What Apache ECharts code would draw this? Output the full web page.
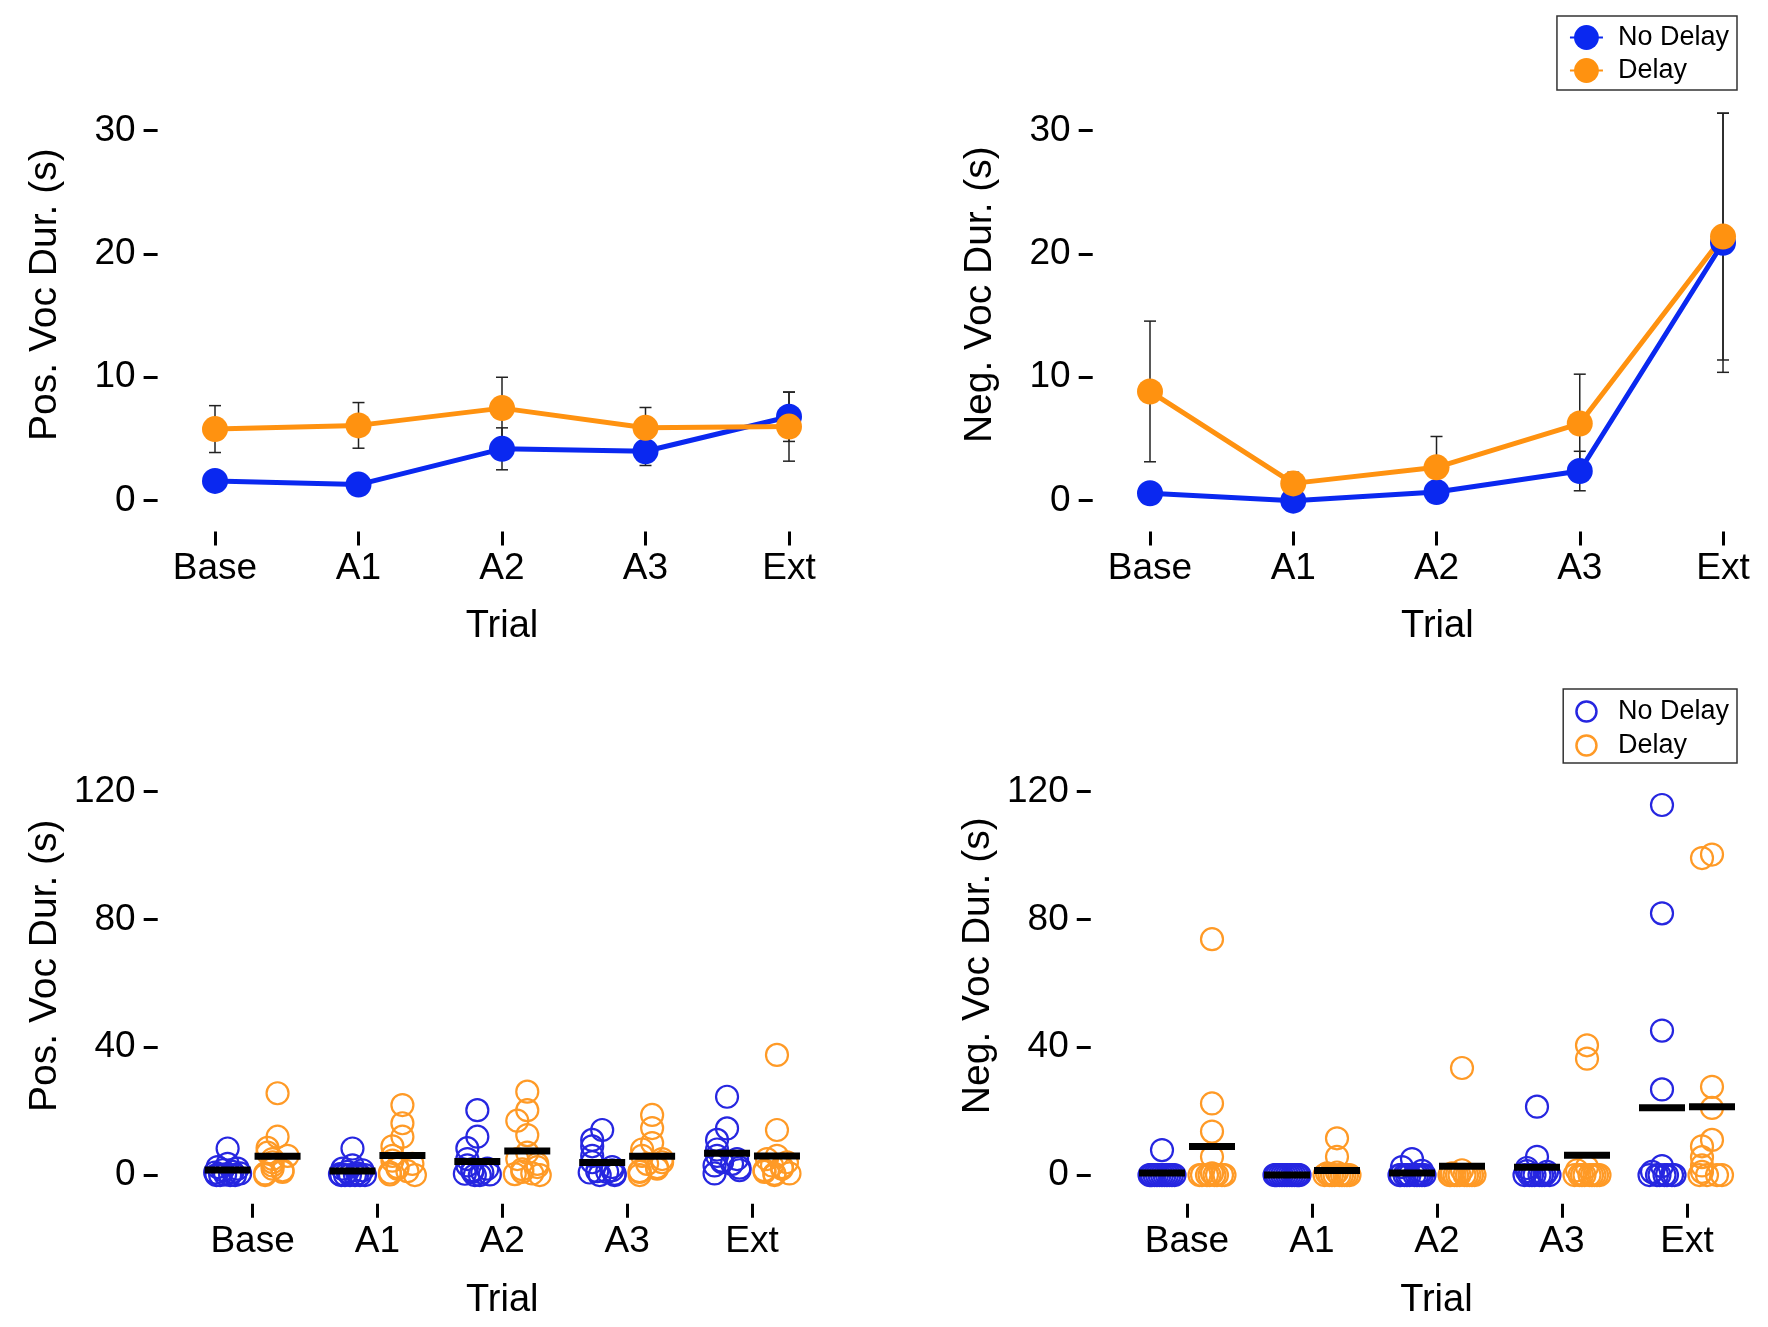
<!DOCTYPE html>
<html>
<head>
<meta charset="utf-8">
<title>Voc duration by trial</title>
<script src="https://cdn.jsdelivr.net/npm/echarts@6/dist/echarts.min.js"></script>
<style>
  html, body { margin: 0; padding: 0; background: #fff; }
  #main { width: 1768px; height: 1327px; }
</style>
</head>
<body>
<div id="main"></div>
<script>
// categories
var trials = ['Base', 'A1', 'A2', 'A3', 'Ext'];

// top panels: group means and SEM
var posMeanNoDelay = [1.6, 1.3, 4.2, 4.0, 6.8];
var posSemNoDelay = [0.6, 0.6, 1.7, 1.15, 2.0];
var posMeanDelay = [5.8, 6.1, 7.5, 5.9, 6.0];
var posSemDelay = [1.9, 1.85, 2.5, 1.65, 2.8];

var negMeanNoDelay = [0.6, 0.0, 0.7, 2.4, 20.9];
var negSemNoDelay = [0.6, 0.0, 0.5, 1.6, 10.5];
var negMeanDelay = [8.85, 1.4, 2.7, 6.25, 21.4];
var negSemDelay = [5.7, 0.9, 2.5, 4.0, 10.0];

// bottom panels: individual animals, one array per trial
var posNoDelay = [
  [8.3, 3.5, 2.5, 2.0, 1.5, 1.0, 0.8, 0.5, 0.2, 0, 0, 0, 0],
  [8.3, 3.0, 2.0, 1.5, 1.0, 0.5, 0.3, 0, 0, 0, 0, 0, 0],
  [20.3, 12.0, 8.4, 5.0, 3.0, 2.0, 1.5, 1.0, 0.8, 0.4, 0.2, 0, 0],
  [14.1, 11.0, 9.0, 6.0, 4.0, 2.5, 1.5, 1.2, 1.0, 0.8, 0.4, 0, 0],
  [24.5, 14.6, 11.0, 8.0, 6.0, 5.0, 4.5, 4.0, 3.5, 3.0, 2.3, 1.5, 0.5]
];
var posDelay = [
  [25.6, 12.0, 8.5, 7.0, 6.0, 5.0, 4.0, 3.0, 2.0, 1.5, 1.0, 0.5, 0],
  [21.9, 16.2, 12.0, 9.0, 6.0, 4.5, 3.5, 2.5, 2.0, 1.2, 0.8, 0.2, 0],
  [26.1, 20.3, 17.0, 12.5, 7.0, 5.0, 3.5, 2.5, 1.8, 1.0, 0.5, 0.3, 0],
  [18.8, 14.7, 10.0, 8.0, 6.0, 5.0, 4.0, 3.5, 2.5, 2.0, 1.2, 1.0, 0],
  [37.6, 14.1, 6.0, 5.0, 4.0, 3.0, 2.5, 2.0, 1.5, 1.0, 0.5, 0.4, 0]
];
var negNoDelay = [
  [7.8, 0, 0, 0, 0, 0, 0, 0, 0, 0, 0, 0, 0],
  [0, 0, 0, 0, 0, 0, 0, 0, 0, 0, 0, 0, 0],
  [5.0, 2.5, 1.3, 0, 0, 0, 0, 0, 0, 0, 0, 0, 0],
  [21.4, 5.7, 2.2, 1.2, 1.0, 0, 0, 0, 0, 0, 0, 0, 0],
  [115.8, 81.9, 45.2, 26.8, 2.8, 1.0, 0, 0, 0, 0, 0, 0, 0]
];
var negDelay = [
  [73.8, 22.4, 13.6, 5.7, 0.5, 0, 0, 0, 0, 0, 0, 0, 0],
  [11.5, 5.7, 0.8, 0.5, 0, 0, 0, 0, 0, 0, 0, 0, 0],
  [33.5, 1.5, 0.5, 0, 0, 0, 0, 0, 0, 0, 0, 0, 0],
  [40.6, 36.4, 2.5, 1.5, 0, 0, 0, 0, 0, 0, 0, 0, 0],
  [100.3, 99.2, 27.6, 21.0, 11.0, 9.0, 5.6, 3.0, 1.0, 0, 0, 0, 0]
];

var BLUE = '#0a28f0';
var ORANGE = '#ff9210';
var BLUE_PT = '#2626e0';
var ORANGE_PT = '#ff9a26';
var FONT = '"Liberation Sans", Arial, Helvetica, sans-serif';

// horizontal spread so that overlapping circles fan out a bit
var SPREAD = [0, -0.08, 0.08, -0.04, 0.04, -0.1, 0.1, -0.02, 0.02, -0.06, 0.06, -0.09, 0.09];

function swarm(groups, shift) {
  var out = [];
  groups.forEach(function (vals, i) {
    var placed = [];
    vals.slice().sort(function (a, b) { return b - a; }).forEach(function (v) {
      var k = placed.filter(function (p) { return Math.abs(p - v) < 4; }).length;
      out.push([i + shift + SPREAD[k % SPREAD.length], v]);
      placed.push(v);
    });
  });
  return out;
}

function means(groups, shift) {
  return groups.map(function (vals, i) {
    var s = vals.reduce(function (a, b) { return a + b; }, 0);
    return [i + shift, s / vals.length];
  });
}

function xAxis(idx, min, max, gap, namePad) {
  return {
    type: 'value', gridIndex: idx, min: min, max: max,
    axisLine: { show: false, onZero: false }, splitLine: { show: false },
    axisTick: { show: true, length: 14, lineStyle: { color: '#000', width: 3 }, customValues: [0, 1, 2, 3, 4] },
    axisLabel: {
      customValues: [0, 1, 2, 3, 4], margin: 19,
      formatter: function (v) { return trials[Math.round(v)]; },
      fontSize: 37, color: '#000', fontFamily: FONT
    },
    name: 'Trial', nameLocation: 'middle', nameGap: gap,
    nameTextStyle: { fontSize: 38, color: '#000', fontFamily: FONT, padding: [0, 0, 0, namePad] }
  };
}

function yAxis(idx, min, max, ticks, name) {
  return {
    type: 'value', gridIndex: idx, min: min, max: max,
    axisLine: { show: false, onZero: false }, splitLine: { show: false },
    axisTick: { show: true, length: 14, lineStyle: { color: '#000', width: 3 }, customValues: ticks },
    axisLabel: { customValues: ticks, margin: 22, fontSize: 37, color: '#000', fontFamily: FONT },
    name: name, nameLocation: 'middle', nameGap: 93,
    nameTextStyle: { fontSize: 39, color: '#000', fontFamily: FONT, padding: [0, 0, 0, 48] }
  };
}

function lineSeries(name, idx, vals, color) {
  return {
    name: name, type: 'line', xAxisIndex: idx, yAxisIndex: idx,
    data: vals.map(function (v, i) { return [i, v]; }),
    symbol: 'circle', symbolSize: 26,
    lineStyle: { color: color, width: 5 },
    itemStyle: { color: color },
    z: 3
  };
}

function errSeries(idx, vals, sem) {
  return {
    type: 'custom', xAxisIndex: idx, yAxisIndex: idx, z: 2, silent: true,
    data: vals.map(function (v, i) { return [i, v - sem[i], v + sem[i]]; }),
    encode: { x: 0, y: [1, 2] },
    renderItem: function (params, api) {
      var lo = api.coord([api.value(0), api.value(1)]);
      var hi = api.coord([api.value(0), api.value(2)]);
      var c = 6;
      var st = { stroke: '#222', lineWidth: 1.5 };
      return {
        type: 'group', children: [
          { type: 'line', shape: { x1: lo[0], y1: lo[1], x2: hi[0], y2: hi[1] }, style: st },
          { type: 'line', shape: { x1: lo[0] - c, y1: lo[1], x2: lo[0] + c, y2: lo[1] }, style: st },
          { type: 'line', shape: { x1: hi[0] - c, y1: hi[1], x2: hi[0] + c, y2: hi[1] }, style: st }
        ]
      };
    }
  };
}

function pointSeries(name, idx, groups, shift, color) {
  return {
    name: name, type: 'scatter', xAxisIndex: idx, yAxisIndex: idx,
    data: swarm(groups, shift),
    symbol: 'circle', symbolSize: 22,
    itemStyle: { color: 'rgba(0,0,0,0)', borderColor: color, borderWidth: 2.2, opacity: 1 },
    z: 3
  };
}

function meanSeries(idx, groups, shift) {
  return {
    type: 'scatter', xAxisIndex: idx, yAxisIndex: idx, silent: true,
    data: means(groups, shift),
    symbol: 'rect', symbolSize: [46, 7],
    itemStyle: { color: '#000', opacity: 1 },
    z: 5
  };
}

var chart = echarts.init(document.getElementById('main'));

chart.setOption({
  backgroundColor: '#fff',
  animation: false,
  textStyle: { fontFamily: FONT },
  grid: [
    { left: 157.6, right: 921.6, top: 105.8, bottom: 795.5 },
    { left: 1092.7, right: 0, top: 105.8, bottom: 795.5 },
    { left: 157.7, right: 921.1, top: 775.6, bottom: 123.2 },
    { left: 1090.75, right: 0, top: 775.6, bottom: 123.2 }
  ],
  xAxis: [
    xAxis(0, -0.4, 4.4, 76, 0),
    xAxis(1, -0.4, 4.314, 76, 14),
    xAxis(2, -0.76, 4.76, 78, 0),
    xAxis(3, -0.77, 4.648, 78, 14)
  ],
  yAxis: [
    yAxis(0, -2.5, 32, [0, 10, 20, 30], 'Pos. Voc Dur. (s)'),
    yAxis(1, -2.5, 32, [0, 10, 20, 30], 'Neg. Voc Dur. (s)'),
    yAxis(2, -9, 125, [0, 40, 80, 120], 'Pos. Voc Dur. (s)'),
    yAxis(3, -9, 125, [0, 40, 80, 120], 'Neg. Voc Dur. (s)')
  ],
  legend: [
    {
      orient: 'vertical', right: 31, top: 16,
      itemWidth: 33, itemHeight: 31, itemGap: 6,
      padding: [8, 8, 6, 12],
      borderColor: '#333', borderWidth: 1.5,
      textStyle: { fontSize: 27, color: '#000', fontFamily: FONT, padding: [0, 0, 0, 10] },
      data: ['No Delay', 'Delay']
    },
    {
      orient: 'vertical', right: 31, top: 689,
      itemWidth: 33, itemHeight: 20, itemGap: 7,
      padding: [9, 8, 4, 12],
      borderColor: '#333', borderWidth: 1.5,
      textStyle: { fontSize: 27, color: '#000', fontFamily: FONT, padding: [0, 0, 0, 10] },
      data: [
        { name: 'No Delay', icon: 'circle', itemStyle: { color: 'rgba(0,0,0,0)', borderColor: BLUE_PT, borderWidth: 2.5 } },
        { name: 'Delay', icon: 'circle', itemStyle: { color: 'rgba(0,0,0,0)', borderColor: ORANGE_PT, borderWidth: 2.5 } }
      ]
    }
  ],
  series: [
    lineSeries('No Delay', 0, posMeanNoDelay, BLUE),
    lineSeries('Delay', 0, posMeanDelay, ORANGE),
    lineSeries('No Delay', 1, negMeanNoDelay, BLUE),
    lineSeries('Delay', 1, negMeanDelay, ORANGE),
    errSeries(0, posMeanNoDelay, posSemNoDelay),
    errSeries(0, posMeanDelay, posSemDelay),
    errSeries(1, negMeanNoDelay, negSemNoDelay),
    errSeries(1, negMeanDelay, negSemDelay),

    pointSeries('No Delay', 2, posNoDelay, -0.2, BLUE_PT),
    pointSeries('Delay', 2, posDelay, 0.2, ORANGE_PT),
    meanSeries(2, posNoDelay, -0.2),
    meanSeries(2, posDelay, 0.2),

    pointSeries('No Delay', 3, negNoDelay, -0.2, BLUE_PT),
    pointSeries('Delay', 3, negDelay, 0.2, ORANGE_PT),
    meanSeries(3, negNoDelay, -0.2),
    meanSeries(3, negDelay, 0.2)
  ]
});
</script>
</body>
</html>
